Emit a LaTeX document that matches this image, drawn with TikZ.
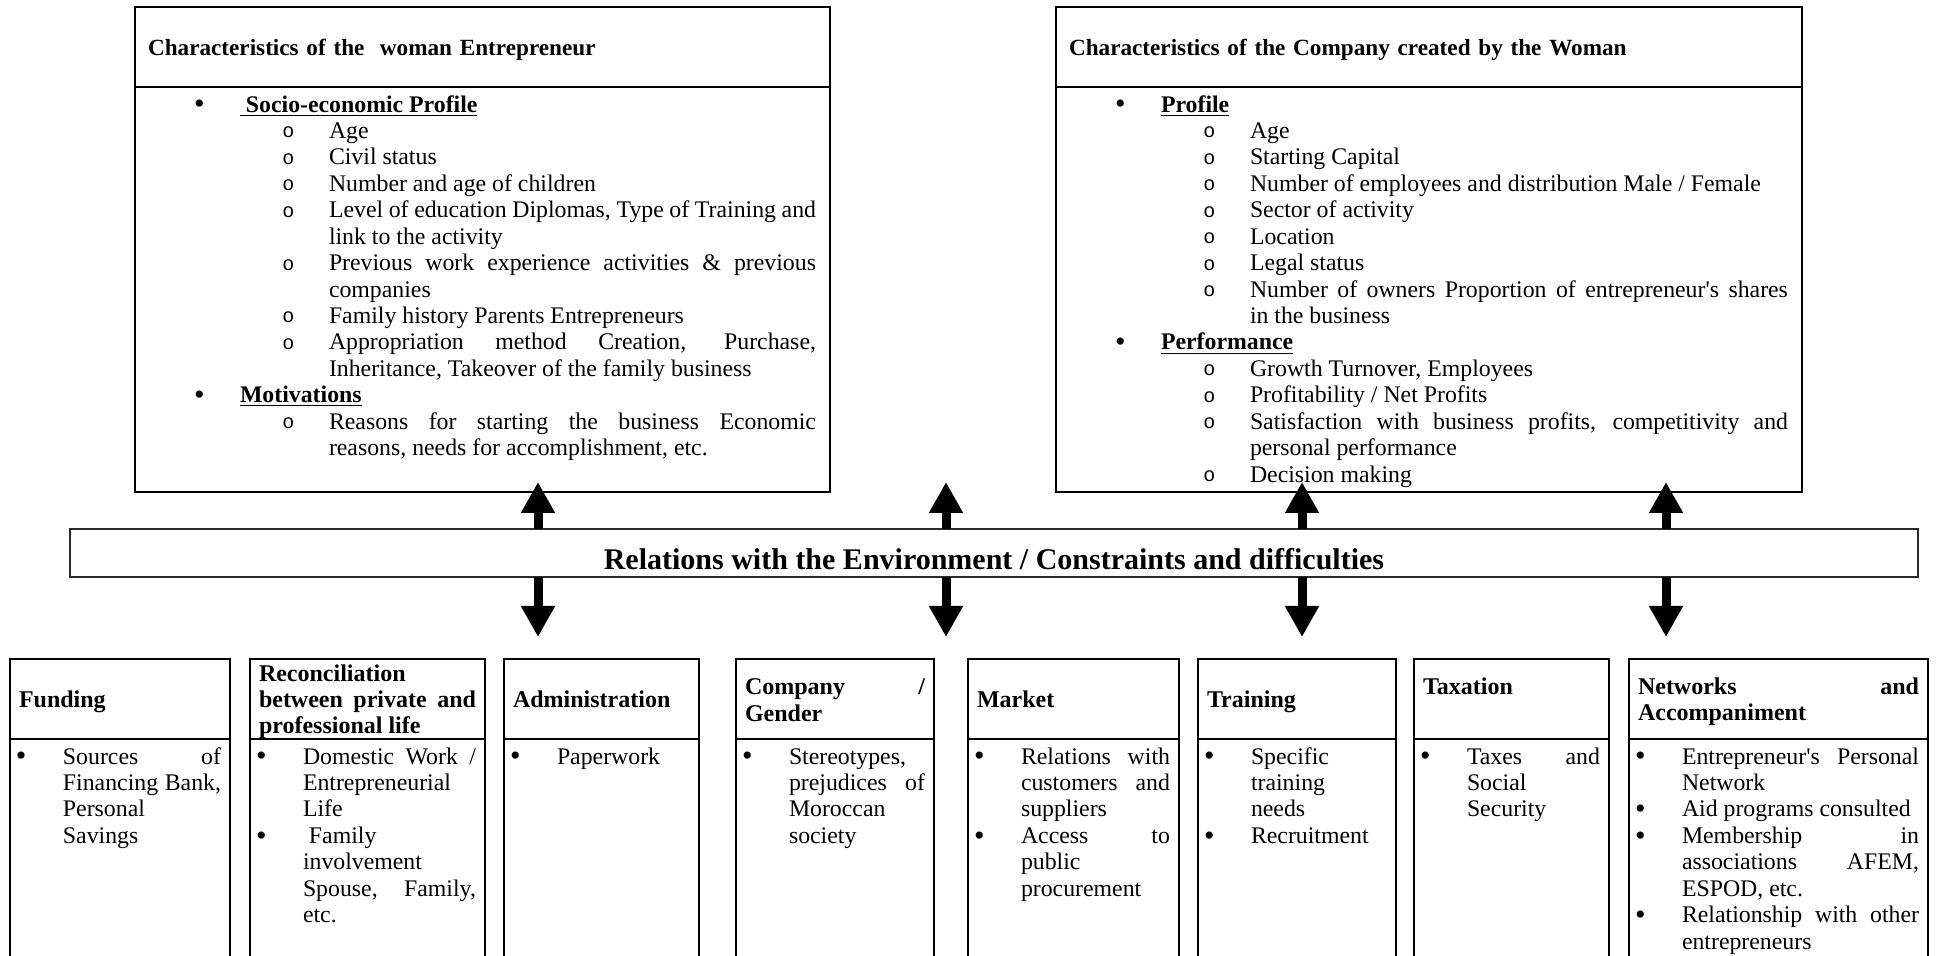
\documentclass[tikz,border=0pt]{standalone}
\usepackage{fontspec}
\setmainfont{Liberation Serif}
\setmonofont{Liberation Mono}
\usepackage{enumitem}
\usetikzlibrary{arrows.meta, positioning}

\definecolor{inkblack}{HTML}{000000}
\definecolor{bargray}{HTML}{2A2A2A}

\newcommand{\bodyfont}{\fontsize{11.9}{13.22}\selectfont}
\newcommand{\headfont}{\fontsize{12}{13.22}\selectfont\bfseries}
\newcommand{\titlefont}{\fontsize{11.6}{13.22}\selectfont\bfseries}
\newcommand{\barfont}{\fontsize{15}{18}\selectfont\bfseries}
\newcommand{\bigdot}{\raisebox{-0.9pt}{\fontsize{15}{13}\selectfont\textbullet}}
\newcommand{\smallo}{\raisebox{0.3pt}{\fontsize{10}{13}\selectfont\texttt{o}}}

\newlist{toplist}{itemize}{2}
\setlist[toplist]{itemsep=0pt, parsep=0pt, topsep=0pt, partopsep=0pt, align=left}
\setlist[toplist,1]{label=\strut\bigdot, leftmargin=52.5pt, labelwidth=13pt, labelsep=9.9pt, rightmargin=7pt}
\setlist[toplist,2]{label=\strut\smallo, leftmargin=44.5pt, labelwidth=10pt, labelsep=13.3pt}
\newlist{collist}{itemize}{1}
\setlist[collist]{label=\strut\bigdot, leftmargin=26.5pt, labelwidth=10pt, labelsep=13.5pt,
  rightmargin=4.5pt, itemsep=0pt, parsep=0pt, topsep=0pt, partopsep=0pt, align=left}

% fixed-size text area of a box body
\newcommand{\boxtext}[3]{\begin{minipage}[c][#1][t]{#2}%
  \tolerance=10000\hbadness=10000\hyphenpenalty=10000
  \hrule height 0pt width #2\vspace*{3.25pt}#3\end{minipage}}

\tikzset{
  headbox/.style={draw=inkblack, line width=1pt, anchor=north west, outer sep=0pt,
    minimum height=40pt, inner ysep=0pt, font=\headfont,
    execute at begin node={\rule{0pt}{11pt}}, execute at end node={\rule[-2pt]{0pt}{2pt}}},
  tophead/.style={headbox, inner xsep=6.5pt, text width=#1, align=left, font=\titlefont},
  colhead/.style={headbox, inner xsep=4.5pt, text width=#1, align=justify},
  bodybox/.style={draw=inkblack, line width=1pt, inner sep=0pt, outer sep=0pt, font=\bodyfont},
  envbar/.style={draw=bargray, line width=1pt, fill=white, inner sep=0pt, outer sep=0pt,
    font=\barfont, text height=16.9pt, text depth=0.5pt},
  fatarr/.style={-{Triangle[length=15.5pt, width=16pt]}, line width=4.5pt, color=inkblack},
}

\begin{document}
\begin{tikzpicture}[x=0.5pt, y=-0.5pt]
  \useasboundingbox (0,0) rectangle (1939,956);
  \clip (0,0) rectangle (1939,956);

  % the entrepreneur
  \node[tophead=334.5pt] (enthead) at (135,7) {Characteristics of the~ woman Entrepreneur};
  \node[bodybox, below=0pt of enthead] (entbody) {\boxtext{202.5pt}{347.5pt}{%
    \begin{toplist}
      \item \underline{\textbf{\ Socio-economic Profile}}
      \begin{toplist}
        \item Age
        \item Civil status
        \item Number and age of children
        \item Level of education Diplomas, Type of Training and\linebreak link to the activity
        \item Previous work experience activities \& previous\linebreak companies
        \item Family history Parents Entrepreneurs
        \item Appropriation method Creation, Purchase,\linebreak Inheritance, Takeover of the family business
      \end{toplist}
      \item \underline{\textbf{Motivations}}
      \begin{toplist}
        \item Reasons for starting the business Economic\linebreak reasons, needs for accomplishment, etc.
      \end{toplist}
    \end{toplist}}};

  % the company
  \node[tophead=360pt] (comphead) at (1056,7) {Characteristics of the Company created by the Woman};
  \node[bodybox, below=0pt of comphead] (compbody) {\boxtext{202.5pt}{373pt}{%
    \begin{toplist}
      \item \underline{\textbf{Profile}}
      \begin{toplist}
        \item Age
        \item Starting Capital
        \item Number of employees and distribution Male / Female
        \item Sector of activity
        \item Location
        \item Legal status
        \item Number of owners Proportion of entrepreneur\textquotesingle s shares\linebreak in the business
      \end{toplist}
      \item \underline{\textbf{Performance}}
      \begin{toplist}
        \item Growth Turnover, Employees
        \item Profitability / Net Profits
        \item Satisfaction with business profits, competitivity and\linebreak personal performance
        \item Decision making
      \end{toplist}
    \end{toplist}}};

  % environment bar and arrows
  \node[envbar, minimum width=924pt, minimum height=24pt] (env) at (994,553)
    {Relations with the Environment / Constraints and difficulties};

  \coordinate (upA) at (538,482);
  \coordinate (upB) at (946,482);
  \coordinate (upC) at (1302,482);
  \coordinate (upD) at (1666,482);
  \coordinate (downA) at (538,637);
  \coordinate (downB) at (946,637);
  \coordinate (downC) at (1302,637);
  \coordinate (downD) at (1666,637);

  \draw[fatarr] (env.north -| upA) -- (upA);
  \draw[fatarr] (env.north -| upB) -- (upB);
  \draw[fatarr] (env.north -| upC) -- (upC);
  \draw[fatarr] (env.north -| upD) -- (upD);
  \draw[fatarr] (env.south -| downA) -- (downA);
  \draw[fatarr] (env.south -| downB) -- (downB);
  \draw[fatarr] (env.south -| downC) -- (downC);
  \draw[fatarr] (env.south -| downD) -- (downD);

  % constraint columns
  \node[colhead=101pt] (fundhead) at (10,659) {Funding};
  \node[bodybox, below=0pt of fundhead] (fundbody) {\boxtext{130.5pt}{110pt}{%
    \begin{collist}
      \item Sources of\linebreak Financing Bank,\linebreak Personal\\ Savings
    \end{collist}}};

  \node[colhead=108.5pt] (recohead) at (250,659)
    {Reconciliation\\ between private and\linebreak professional life};
  \node[bodybox, below=0pt of recohead] (recobody) {\boxtext{130.5pt}{117.5pt}{%
    \begin{collist}
      \item Domestic Work /\linebreak Entrepreneurial\\ Life
      \item \ Family\\ involvement\\ Spouse, Family,\linebreak etc.
    \end{collist}}};

  \node[colhead=88.5pt] (admhead) at (504,659) {Administration};
  \node[bodybox, below=0pt of admhead] (admbody) {\boxtext{130.5pt}{97.5pt}{%
    \begin{collist}
      \item Paperwork
    \end{collist}}};

  \node[colhead=90pt] (genhead) at (736,659) {Company /\linebreak Gender};
  \node[bodybox, below=0pt of genhead] (genbody) {\boxtext{130.5pt}{99pt}{%
    \begin{collist}
      \item Stereotypes,\\ prejudices of\linebreak Moroccan\\ society
    \end{collist}}};

  \node[colhead=96.5pt] (markhead) at (968,659) {Market};
  \node[bodybox, below=0pt of markhead] (markbody) {\boxtext{130.5pt}{105.5pt}{%
    \begin{collist}
      \item Relations with\linebreak customers and\linebreak suppliers
      \item Access to\linebreak public\\ procurement
    \end{collist}}};

  \node[colhead=90pt] (trainhead) at (1198,659) {Training};
  \node[bodybox, below=0pt of trainhead] (trainbody) {\boxtext{130.5pt}{99pt}{%
    \begin{collist}
      \item Specific\\ training\\ needs
      \item Recruitment
    \end{collist}}};

  \node[colhead=88.5pt] (taxhead) at (1414,659) {Taxation\\\mbox{}};
  \node[bodybox, below=0pt of taxhead] (taxbody) {\boxtext{130.5pt}{97.5pt}{%
    \begin{collist}
      \item Taxes and\linebreak Social\\ Security
    \end{collist}}};

  \node[colhead=140.5pt] (nethead) at (1629,659) {Networks and\linebreak Accompaniment};
  \node[bodybox, below=0pt of nethead] (netbody) {\boxtext{130.5pt}{149.5pt}{%
    \begin{collist}
      \item Entrepreneur\textquotesingle s Personal\linebreak Network
      \item Aid programs consulted
      \item Membership in\linebreak associations AFEM,\linebreak ESPOD, etc.
      \item Relationship with other\linebreak entrepreneurs
    \end{collist}}};
\end{tikzpicture}
\end{document}
